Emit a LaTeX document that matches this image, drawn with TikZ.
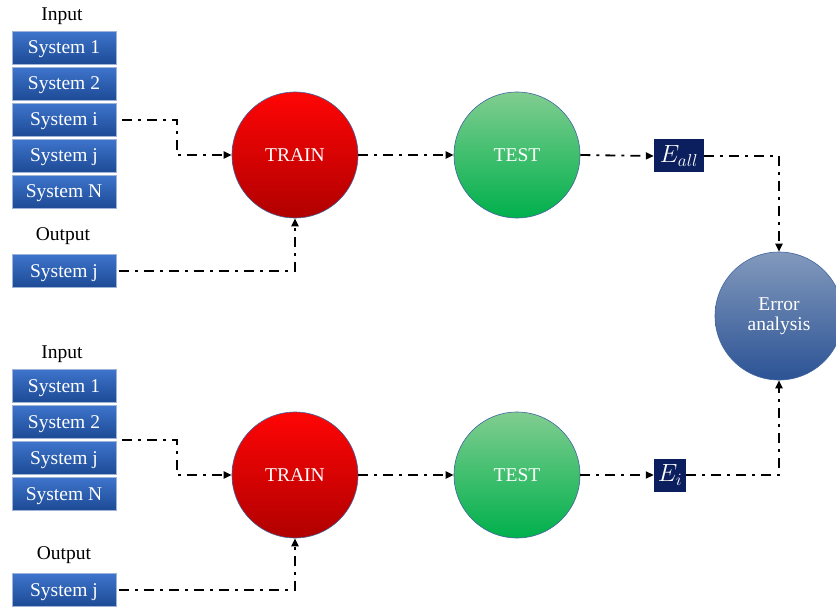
\documentclass[tikz,border=0pt]{standalone}
\usepackage{fontspec}
\setmainfont{Liberation Serif}
\usetikzlibrary{arrows.meta,calc}
\definecolor{boxtop}{HTML}{3D74CC}
\definecolor{boxbot}{HTML}{1D4A94}
\definecolor{boxedge}{HTML}{9DB3D8}
\definecolor{redtop}{HTML}{FF0505}
\definecolor{redbot}{HTML}{B00000}
\definecolor{greentop}{HTML}{80CD90}
\definecolor{greenbot}{HTML}{00B04C}
\definecolor{errtop}{HTML}{8299BC}
\definecolor{errbot}{HTML}{2C5395}
\definecolor{circedge}{HTML}{41659E}
\definecolor{navy}{HTML}{0B1F5E}
\begin{document}
\begin{tikzpicture}[x=1pt,y=-1pt,
  txt/.style={font=\fontsize{19.5}{22}\selectfont},
  sysbox/.style={rectangle, minimum width=104pt, minimum height=33pt, inner sep=0pt,
    top color=boxtop, bottom color=boxbot, draw=boxedge, line width=0.6pt,
    text=white, txt, text height=14pt, text depth=2pt},
  lbl/.style={txt, text=black, inner sep=0pt},
  ball/.style={circle, minimum size=126pt, inner sep=0pt, draw=circedge, line width=0.6pt,
    text=white, txt, align=center},
  trainball/.style={ball, top color=redtop, bottom color=redbot},
  testball/.style={ball, top color=greentop, bottom color=greenbot},
  errball/.style={ball, top color=errtop, bottom color=errbot, minimum size=128pt},
  ebox/.style={rectangle, fill=navy, text=white, inner sep=0pt, minimum height=33pt,
    font=\fontsize{27}{29}\selectfont},
  conn/.style={line width=1.8pt, dash pattern=on 10pt off 6pt on 3pt off 6pt,
    -{Triangle[length=8pt,width=7pt]}}
]
\useasboundingbox (0,0) rectangle (836,607);
\clip (0,0) rectangle (836,607);

% top group
\node[lbl] (in1) at (62,16) {Input};
\node[sysbox] (a1) at (64,48) {System 1};
\node[sysbox] (a2) at (64,84) {System 2};
\node[sysbox] (a3) at (64,120) {System i};
\node[sysbox] (a4) at (64,156) {System j};
\node[sysbox] (a5) at (64,192) {System N};
\node[lbl] (out1) at (63,236) {Output};
\node[sysbox] (ao) at (64,271) {System j};

\node[trainball] (tr1) at (295,155) {TRAIN};
\node[testball] (te1) at (517,155) {TEST};
\node[ebox, minimum width=50pt] (ea) at (679,156) {$E_{all}$};

\node[errball] (err) at (779,316) {Error\\[-2pt]analysis};

% bottom group
\node[lbl] (in2) at (62,354) {Input};
\node[sysbox] (b1) at (64,386) {System 1};
\node[sysbox] (b2) at (64,422) {System 2};
\node[sysbox] (b3) at (64,458) {System j};
\node[sysbox] (b4) at (64,494) {System N};
\node[lbl] (out2) at (64,555) {Output};
\node[sysbox] (bo) at (64,590) {System j};

\node[trainball] (tr2) at (295,475) {TRAIN};
\node[testball] (te2) at (517,475) {TEST};
\node[ebox, minimum width=32pt] (ei) at (670,475) {$E_{i}$};

\coordinate (m2) at ($(b2.south east)!0.5!(b3.north east)$);

% connectors top
\draw[conn] ([xshift=6pt]a3.east) -- ++(55,0) |- (tr1.west);
\draw[conn] ([xshift=3pt]ao.east) -| (tr1.south);
\draw[conn] (tr1.east) -- (te1.west);
\draw[conn] (te1.east) -- (ea.west);
\draw[conn] (ea.east) -| (err.north);

% connectors bottom
\draw[conn] ([xshift=6pt]m2) -- ++(55,0) |- (tr2.west);
\draw[conn] ([xshift=3pt]bo.east) -| (tr2.south);
\draw[conn] (tr2.east) -- (te2.west);
\draw[conn] (te2.east) -- (ei.west);
\draw[conn] (ei.east) -| (err.south);
\end{tikzpicture}
\end{document}
